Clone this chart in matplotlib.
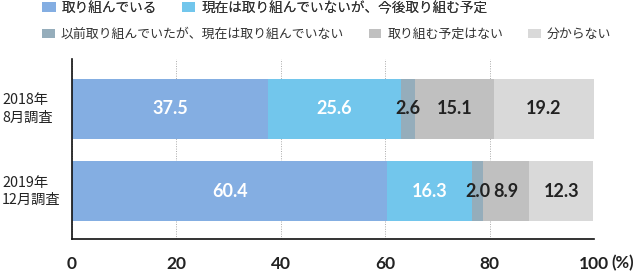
import numpy as np
import matplotlib.pyplot as plt
from matplotlib.patches import Patch
from matplotlib.transforms import blended_transform_factory

plt.rcParams['font.family'] = ['Noto Sans CJK JP', 'DejaVu Sans']

surveys = ["2018年\n8月調査", "2019年\n12月調査"]
series = ["取り組んでいる", "現在は取り組んでいないが、今後取り組む予定",
          "以前取り組んでいたが、現在は取り組んでいない", "取り組む予定はない", "分からない"]
values = [
    [37.5, 60.4],
    [25.6, 16.3],
    [2.6, 2.0],
    [15.1, 8.9],
    [19.2, 12.3],
]
colors = ["#84aee2", "#72c6ec", "#95adbb", "#c0c0c0", "#d9d9d9"]
label_colors = ["white", "white", "#222222", "#222222", "#222222"]
xticks = [0, 20, 40, 60, 80, 100]

fig, ax = plt.subplots(figsize=(6.36, 2.72), dpi=100)
fig.subplots_adjust(left=72/636, right=594/636, top=1-59/272, bottom=1-239/272)

y = np.arange(len(surveys))
left = np.zeros(len(surveys))
handles = []
for vals, col, lc, name in zip(values, colors, label_colors, series):
    vals = np.array(vals)
    ax.barh(y, vals, left=left, height=0.727, color=col, zorder=2)
    for i in range(len(y)):
        ax.text(left[i] + vals[i] / 2, y[i], f"{vals[i]:.1f}", ha='center', va='center',
                color=lc, fontsize=13, fontweight='bold', family='Lato', zorder=3)
    left = left + vals
    handles.append(Patch(facecolor=col, edgecolor='none'))

ax.set_xlim(0, 100)
ax.set_ylim(1.58, -0.606)
ax.set_xticks(xticks)
ax.set_xticklabels([str(t) for t in xticks], fontsize=12.5, fontweight='bold',
                   family='Lato', color='#222222')
ax.tick_params(axis='x', length=0, pad=12)
ax.set_yticks([])
ax.xaxis.grid(True, linestyle=(0, (1, 1.5)), color='#aaaaaa', linewidth=0.7, zorder=0)
ax.set_axisbelow(True)
ax.spines['top'].set_visible(False)
ax.spines['right'].set_visible(False)
for s in ['left', 'bottom']:
    ax.spines[s].set_color('#111111')
    ax.spines[s].set_linewidth(1.2)

ax.annotate("(%)", xy=(1, 0), xycoords='axes fraction', xytext=(17, -24),
            textcoords='offset pixels', ha='left', va='center', fontsize=12,
            color='#222222', family='Lato', fontweight='bold')

tr = blended_transform_factory(fig.transFigure, ax.transData)
for yi, lab in zip(y, surveys):
    ax.text(2/636, yi, lab, transform=tr, ha='left', va='center', fontsize=10.3,
            color='#222222', linespacing=1.3)

leg_kw = dict(frameon=False, handlelength=1.0, handleheight=0.8,
              handletextpad=0.45, borderpad=0, borderaxespad=0,
              labelcolor='#333333')
leg1 = fig.legend(handles[:2], series[:2], loc='upper left', ncol=2, fontsize=9.8,
                  columnspacing=1.8, bbox_to_anchor=(42/636, 1-1/272), **leg_kw)
fig.add_artist(leg1)
fig.legend(handles[2:], series[2:], loc='upper left', ncol=3, fontsize=9.3,
           columnspacing=1.9, bbox_to_anchor=(42/636, 1-28/272), **leg_kw)

fig.savefig("out.png", dpi=100)
